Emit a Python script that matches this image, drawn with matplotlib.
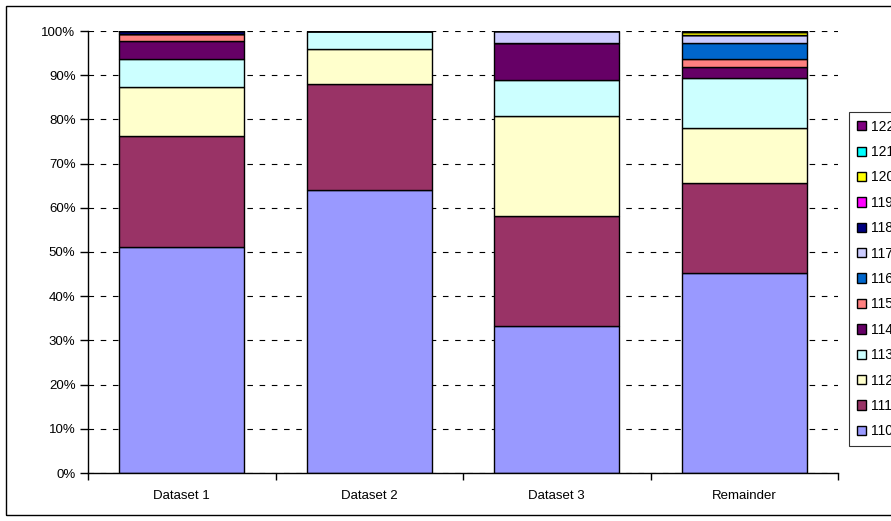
import matplotlib.pyplot as plt
from matplotlib.patches import Rectangle
from matplotlib.ticker import PercentFormatter
import numpy as np

plt.rcParams['font.family'] = ['Liberation Sans', 'DejaVu Sans']

datasets = ['Dataset 1', 'Dataset 2', 'Dataset 3', 'Remainder']
codes = ['110', '111', '112', '113', '114', '115', '116', '117',
         '118', '119', '120', '121', '122']
colors = ['#9999FF', '#993366', '#FFFFCC', '#CCFFFF', '#660066', '#FF8080',
          '#0066CC', '#CCCCFF', '#000080', '#FF00FF', '#FFFF00', '#00FFFF',
          '#800080']

# percent share of each code per dataset (rows = codes 110..122)
v110 = [51.2, 64.0, 33.3, 45.2]
v111 = [25.0, 24.0, 24.8, 20.4]
v112 = [11.2, 7.9, 22.6, 12.4]
v113 = [6.3, 4.1, 8.2, 11.3]
v114 = [4.0, 0.0, 8.3, 2.6]
v115 = [1.6, 0.0, 0.0, 1.8]
v116 = [0.0, 0.0, 0.0, 3.5]
v117 = [0.0, 0.0, 2.8, 1.9]
v118 = [0.7, 0.0, 0.0, 0.0]
v119 = [0.0, 0.0, 0.0, 0.0]
v120 = [0.0, 0.0, 0.0, 0.7]
v121 = [0.0, 0.0, 0.0, 0.0]
v122 = [0.0, 0.0, 0.0, 0.2]
values = [v110, v111, v112, v113, v114, v115, v116, v117,
          v118, v119, v120, v121, v122]

fig = plt.figure(figsize=(8.91, 5.21), dpi=100)
ax = fig.add_axes([88/891, 1-473/521, 750/891, 442/521])

x = np.arange(len(datasets))
bottom = np.zeros(len(datasets))
for code, vals, col in zip(codes, values, colors):
    vals = np.array(vals)
    ax.bar(x, vals, width=0.667, bottom=bottom, color=col,
           edgecolor='black', linewidth=1.0, label=code)
    bottom += vals

ax.set_xlim(-0.5, len(datasets) - 0.5)
ax.set_ylim(0, 100)
ax.set_yticks(np.arange(0, 101, 10))
ax.yaxis.set_major_formatter(PercentFormatter(decimals=0))
ax.set_xticks(x)
ax.set_xticklabels(datasets)
ax.set_xticks(np.arange(-0.5, len(datasets), 1), minor=True)
ax.tick_params(axis='x', which='major', length=0, pad=12, labelsize=9.5)
ax.tick_params(axis='x', which='minor', length=5, direction='out', width=1)
ax.tick_params(axis='y', length=6, direction='out', width=1, labelsize=9.5, pad=3)

ax.set_axisbelow(True)
ax.yaxis.grid(True, color='black', linestyle=(0, (5, 6)), linewidth=0.8)
for s in ['top', 'right']:
    ax.spines[s].set_visible(False)
ax.spines['left'].set_linewidth(1)
ax.spines['bottom'].set_linewidth(1)

h, l = ax.get_legend_handles_labels()
leg = fig.legend(h[::-1], l[::-1], loc='upper left',
                 bbox_to_anchor=(849/891, 1-112/521),
                 frameon=True, fancybox=False, fontsize=10,
                 handlelength=0.65, handleheight=0.65, handletextpad=0.35,
                 labelspacing=0.82, borderpad=0.55, borderaxespad=0)
leg.get_frame().set_edgecolor('black')
leg.get_frame().set_linewidth(0.8)

# outer chart border
fig.patches.append(Rectangle((6/891, 6/521), 2.0, 1-12/521, transform=fig.transFigure,
                             fill=False, edgecolor='black', linewidth=1))

plt.savefig('out.png', dpi=100)
